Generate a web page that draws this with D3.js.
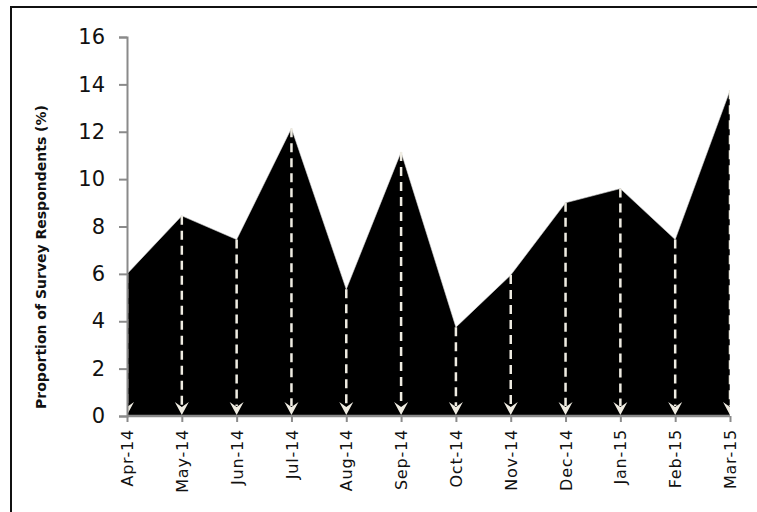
<!DOCTYPE html>
<html><head><meta charset="utf-8">
<script src="https://cdn.jsdelivr.net/npm/d3@7"></script>
<style>body{margin:0;background:#fff}svg{display:block}</style>
</head><body>
<script>
const months = ["Apr-14","May-14","Jun-14","Jul-14","Aug-14","Sep-14","Oct-14","Nov-14","Dec-14","Jan-15","Feb-15","Mar-15"];
const values = [6.0,8.45,7.45,12.15,5.35,11.15,3.75,5.95,9.0,9.6,7.45,13.75];
const yTicks = [0,2,4,6,8,10,12,14,16];
const yLabel = "Proportion of Survey Respondents (%)";

const W=757,H=512;
const svg=d3.select("body").append("svg").attr("width",W).attr("height",H);
svg.append("rect").attr("x",11).attr("y",7).attr("width",W+10).attr("height",H+10)
  .attr("fill","none").attr("stroke","#111").attr("stroke-width",2);

const x=d3.scalePoint().domain(months).range([127,730]);
const y=d3.scaleLinear().domain([0,16]).range([416,37]);

svg.append("clipPath").attr("id","c").append("rect")
  .attr("x",127).attr("y",30).attr("width",603).attr("height",386);
const g=svg.append("g").attr("clip-path","url(#c)");

const data=months.map((m,i)=>({m,v:values[i]}));
g.append("path").datum(data)
  .attr("d",d3.area().x(d=>x(d.m)).y0(y(0)).y1(d=>y(d.v)))
  .attr("fill","#000").attr("stroke","#ddd").attr("stroke-width",0.6);

const dc="#efece2";
g.selectAll("line.d").data(data).join("line")
  .attr("x1",d=>x(d.m)).attr("x2",d=>x(d.m))
  .attr("y1",d=>y(d.v)).attr("y2",y(0)-10)
  .attr("stroke",dc).attr("stroke-width",2.5).attr("stroke-dasharray","9,6");
g.selectAll("path.a").data(data).join("path")
  .attr("d",d=>{const X=x(d.m),b=y(0)-1;return `M${X-7},${b-13}L${X},${b}L${X+7},${b-13}L${X},${b-8}Z`;})
  .attr("fill",dc);

// y axis
const ya=svg.append("g").attr("transform","translate(127,0)")
  .call(d3.axisLeft(y).tickValues(yTicks).tickSize(8).tickPadding(14));
ya.select(".domain").attr("stroke","#8a8a8a").attr("stroke-width",2);
ya.selectAll(".tick line").attr("stroke","#8a8a8a").attr("stroke-width",2);
ya.selectAll("text").attr("font-family","DejaVu Sans").attr("font-size",21).attr("fill","#111");

// x axis
const xa=svg.append("g").attr("transform","translate(0,416)")
  .call(d3.axisBottom(x).tickSize(6).tickPadding(8));
xa.select(".domain").attr("stroke","#8a8a8a").attr("stroke-width",2.5).attr("d","M127,0H730");
xa.selectAll(".tick line").attr("stroke","#8a8a8a").attr("stroke-width",2);
xa.selectAll("text").attr("font-family","DejaVu Sans").attr("font-size",16).attr("letter-spacing","0.8px").attr("fill","#111")
  .attr("transform","rotate(-90)").attr("text-anchor","end").attr("dy","0.35em").attr("x",-13).attr("y",0);

svg.append("text").attr("transform","translate(46,257) rotate(-90)")
  .attr("text-anchor","middle").attr("font-family","DejaVu Sans").attr("font-weight","bold")
  .attr("font-size",14).attr("fill","#111").text(yLabel);
</script>
</body></html>
